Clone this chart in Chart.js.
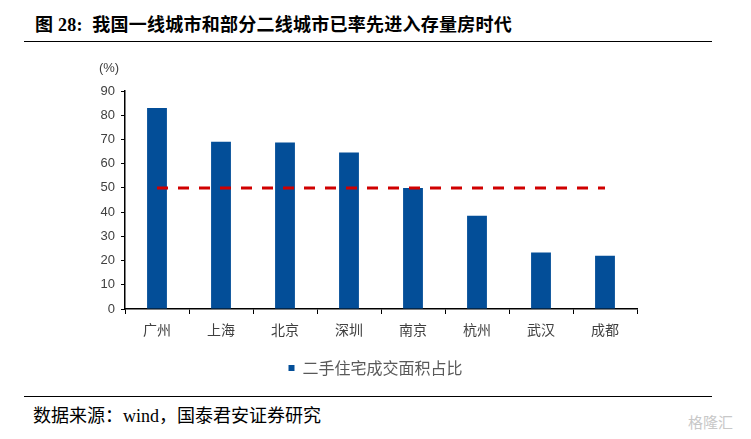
<!DOCTYPE html>
<html>
<head>
<meta charset="utf-8">
<script src="https://cdn.jsdelivr.net/npm/chart.js@4/dist/chart.umd.min.js"></script>
<style>
  body { margin: 0; width: 751px; height: 439px; background: #fff; position: relative; overflow: hidden; }
  .title { position: absolute; left: 35px; top: 10px; font: bold 18px "Liberation Serif", "Noto Sans CJK SC", serif; color: #000; white-space: nowrap; letter-spacing: 0.25px; }
  .rule { position: absolute; left: 24px; width: 688px; height: 0; border-top: 1.5px solid #000; }
  .source { position: absolute; left: 33px; top: 401px; font: 18px "Liberation Serif", "Noto Sans CJK SC", serif; color: #000; white-space: nowrap; }
  .mark { position: absolute; left: 688px; top: 411px; font: 15px "Noto Sans CJK SC", sans-serif; color: #c8c8c8; white-space: nowrap; }
  #wrap { position: absolute; left: 0; top: 0; width: 751px; height: 386px; }
</style>
</head>
<body>
<div class="title">图 28:&nbsp;&nbsp;我国一线城市和部分二线城市已率先进入存量房时代</div>
<div class="rule" style="top:41px"></div>
<div id="wrap"><canvas id="chart"></canvas></div>
<div class="rule" style="top:396px"></div>
<div class="source">数据来源：wind，国泰君安证券研究</div>
<div class="mark">格隆汇</div>
<script>
// 城市及二手住宅成交面积占比(%)
const cities = ['广州', '上海', '北京', '深圳', '南京', '杭州', '武汉', '成都'];
const shareValues = [83, 69, 68.7, 64.6, 50, 38.5, 23.3, 22];
const refLine = [50, 50, 50, 50, 50, 50, 50, 50];
const yTicks = { min: 0, max: 90, step: 10 };

// "(%)" label above y axis
const unitLabel = {
    id: 'unitLabel',
    afterDraw(chart) {
        const ctx = chart.ctx;
        const y = chart.scales.y;
        ctx.save();
        ctx.font = '13px "Liberation Sans", "Noto Sans CJK SC", sans-serif';
        ctx.fillStyle = '#404040';
        ctx.textAlign = 'center';
        ctx.textBaseline = 'middle';
        ctx.fillText('(%)', y.right - 16, chart.chartArea.top - 23);
        ctx.restore();
    }
};

const ctx = document.getElementById('chart').getContext('2d');
new Chart(ctx, {
    data: {
        labels: cities,
        datasets: [{
            type: 'bar',
            label: '二手住宅成交面积占比',
            data: shareValues,
            backgroundColor: '#034e98',
            barPercentage: 0.31,
            categoryPercentage: 1,
            order: 2
        }, {
            type: 'line',
            label: '50%',
            data: refLine,
            borderColor: '#d00000',
            borderWidth: 3,
            borderDash: [11, 10],
            pointRadius: 0,
            fill: false,
            order: 1
        }]
    },
    options: {
        responsive: true,
        maintainAspectRatio: false,
        animation: false,
        layout: { padding: { left: 0, right: 0, top: 91, bottom: 0 } },
        plugins: {
            tooltip: { enabled: false },
            legend: {
                position: 'bottom',
                labels: {
                    filter: item => item.datasetIndex === 0,
                    boxWidth: 6,
                    boxHeight: 6,
                    padding: 10,
                    color: '#595959',
                    font: { size: 16, family: '"Noto Sans CJK SC", sans-serif' }
                }
            }
        },
        scales: {
            x: {
                afterFit: s => { s.height = 41; },
                grid: { offset: true, drawOnChartArea: false, tickLength: 5, color: '#000' },
                border: { color: '#000', width: 1.5 },
                ticks: { color: '#404040', padding: 7, font: { size: 14, family: '"Noto Sans CJK SC", sans-serif' } }
            },
            y: {
                min: yTicks.min,
                max: yTicks.max,
                afterFit: s => { s.width = 125; },
                grid: { drawOnChartArea: false, tickLength: 4, color: '#000' },
                border: { color: '#000', width: 1.5 },
                ticks: { stepSize: yTicks.step, color: '#404040', padding: 6, font: { size: 13, family: '"Liberation Sans", sans-serif' } }
            },
            // empty right-side space so the legend stays centred on the page
            spacer: {
                type: 'linear',
                position: 'right',
                afterFit: s => { s.width = 114; },
                grid: { display: false },
                border: { display: false },
                ticks: { display: false }
            }
        }
    },
    plugins: [unitLabel]
});
</script>
</body>
</html>
